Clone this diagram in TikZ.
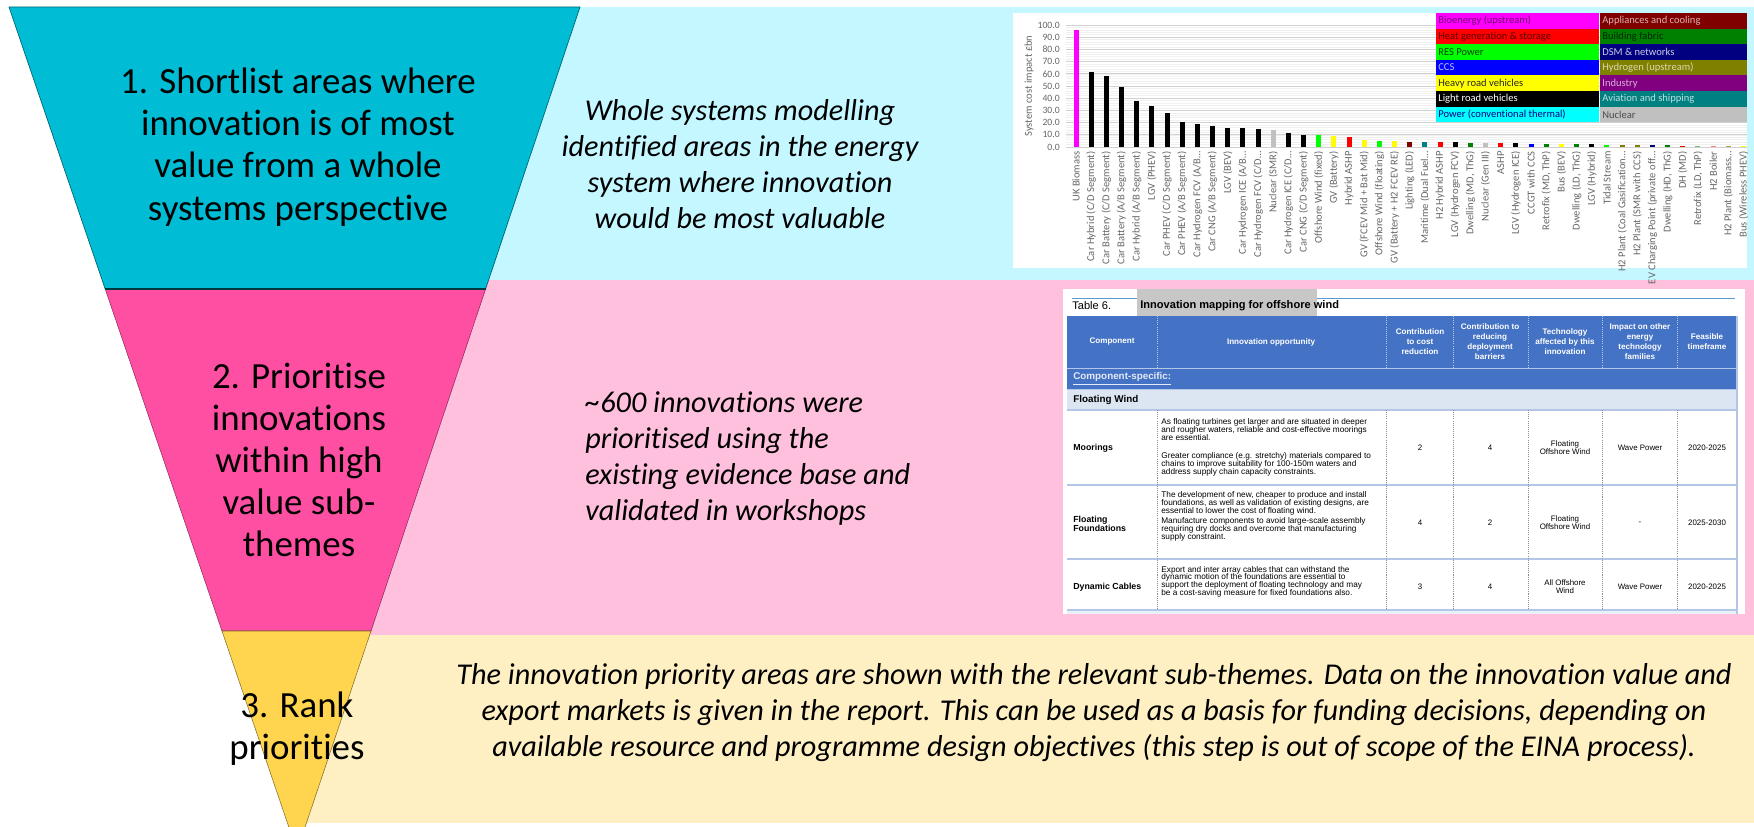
\documentclass[tikz,border=0pt]{standalone}
\usepackage{fontspec}
\setmainfont{Carlito}[Ligatures=NoCommon]
\newfontfamily\tabfont{Liberation Sans}
\usetikzlibrary{positioning}

% funnel and band colours
\definecolor{stepcyan}{HTML}{00BCD4}
\definecolor{bandcyan}{HTML}{C4F7FF}
\definecolor{steppink}{HTML}{FF4FA3}
\definecolor{bandpink}{HTML}{FFC0DE}
\definecolor{stepyellow}{HTML}{FFD54F}
\definecolor{bandyellow}{HTML}{FFF0C3}
% chart legend colours
\definecolor{bio}{HTML}{FF00FF}
\definecolor{heat}{HTML}{FF0000}
\definecolor{res}{HTML}{00FF00}
\definecolor{ccs}{HTML}{0000FF}
\definecolor{hrv}{HTML}{FFFF00}
\definecolor{lrv}{HTML}{000000}
\definecolor{pct}{HTML}{00FFFF}
\definecolor{app}{HTML}{800000}
\definecolor{bfab}{HTML}{008000}
\definecolor{dsm}{HTML}{000080}
\definecolor{hyd}{HTML}{808000}
\definecolor{ind}{HTML}{800080}
\definecolor{avi}{HTML}{008080}
\definecolor{nuc}{HTML}{C0C0C0}
% table colours
\definecolor{tabblue}{HTML}{4472C4}
\definecolor{tablight}{HTML}{DCE6F2}
\definecolor{tabline}{HTML}{B4C6E7}
\definecolor{tabrule}{HTML}{5B9BD5}

\begin{document}
\begin{tikzpicture}[
	x = 0.2mm, y = -0.2mm, % one unit per pixel, y downwards
	Stage/.style={align=center, inner sep=0pt, font=\fontsize{21}{24}\selectfont},
	Note/.style={align=center, inner sep=0pt, font=\fontsize{17.2}{20.5}\selectfont\itshape},
	Tick/.style={inner sep=0pt, text=black!60, font=\fontsize{5.5}{6}\selectfont},
	Key/.style={anchor=west, inner sep=0pt, font=\fontsize{6}{7}\selectfont},
	H/.style={align=center, inner sep=0pt, text=white, font=\tabfont\bfseries\fontsize{4.6}{5.7}\selectfont},
	B/.style={align=left, anchor=west, inner sep=0pt, font=\tabfont\fontsize{4.7}{4.4}\selectfont},
	C/.style={align=center, inner sep=0pt, font=\tabfont\fontsize{4.5}{4.4}\selectfont},
	Bb/.style={B, font=\tabfont\bfseries\fontsize{5}{5.2}\selectfont},
	]

	\useasboundingbox[fill=white] (0,0) rectangle (1754,827);

	% Bands behind the funnel
	\fill[bandcyan] (300,7) rectangle (1754,280);
	\fill[bandpink] (300,280) rectangle (1754,635);
	\fill[bandyellow] (297,635) rectangle (1754,823);

	% Funnel
	\begin{scope}
	\clip (0,0) rectangle (1754,827);
	\filldraw[fill=stepcyan, draw=stepcyan!55!black, line width=0.4pt]
		(9,7) -- (580,7) -- (485.6,289) -- (105.2,289) -- cycle;
	\filldraw[fill=steppink, draw=steppink!55!black, line width=0.3pt]
		(105.2,289) -- (485.6,289) -- (371,631) -- (222,631) -- cycle;
	\draw[line width=1pt, stepcyan!30!black] (105.2,289) -- (485.6,289);
	\filldraw[fill=stepyellow, draw=stepyellow!50!black, line width=0.3pt]
		(222,631) -- (371,631) -- (297,851) -- cycle;
	\end{scope}

	% Step texts
	\node[Stage] (S1) at (298,147) {1. Shortlist areas where\\innovation is of most\\value from a whole\\systems perspective};
	\node[Stage] (S2) at (299,460) {2. Prioritise\\innovations\\within high\\value sub-\\themes};
	\node[Stage] (S3) at (297,729) {3. Rank\\priorities};

	% Notes
	\node[Note] (N1) at (740,164) {Whole systems modelling\\identified areas in the energy\\system where innovation\\would be most valuable};
	\node[Note, align=left, anchor=west] (N2) at (585,459) {\textasciitilde600 innovations were\\prioritised using the\\existing evidence base and\\validated in workshops};
	\node[Note] (N3) at (1094,713) {The innovation priority areas are shown with the relevant sub-themes. Data on the innovation value and\\export markets is given in the report. This can be used as a basis for funding decisions, depending on\\available resource and programme design objectives (this step is out of scope of the EINA process).};

	% Chart panel
	\fill[white] (1013,13) rectangle (1747,268);
	\foreach \g in {0,2,...,100}
		\draw[black!6, line width=0.3pt] (1066,{147-1.22*\g}) -- (1747,{147-1.22*\g});
	\foreach \g in {0,10,...,100} {
		\draw[black!18, line width=0.4pt] (1066,{147-1.22*\g}) -- (1747,{147-1.22*\g});
		\node[Tick, anchor=east] (Y\g) at (1060,{147-1.22*\g}) {\g.0};
	}
	\node[Tick, rotate=90, font=\fontsize{6}{6}\selectfont] (YT) at (1029,86) {System cost impact £bn};

	% Bars and their labels
	\foreach \val/\col/\lab [count=\i from 0] in {
		96/bio/UK Biomass, 61.6/lrv/{Car Hybrid (C/D Segment)}, 58.4/lrv/{Car Battery (C/D Segment)},
		49.3/lrv/{Car Battery (A/B Segment)}, 37.8/lrv/{Car Hybrid (A/B Segment)}, 33.7/lrv/LGV (PHEV),
		28/lrv/{Car PHEV (C/D Segment)}, 20.5/lrv/{Car PHEV (A/B Segment)}, 19.2/lrv/{Car Hydrogen FCV (A/B…},
		17/lrv/{Car CNG (A/B Segment)}, 15.9/lrv/LGV (BEV), 15.6/lrv/{Car Hydrogen ICE (A/B…},
		15.1/lrv/{Car Hydrogen FCV (C/D…}, 14.2/nuc/Nuclear (SMR), 11.8/lrv/{Car Hydrogen ICE (C/D…},
		10.1/lrv/{Car CNG (C/D Segment)}, 9.6/res/Offshore Wind (fixed), 8.8/hrv/GV (Battery),
		8.2/heat/Hybrid ASHP, 5.5/hrv/GV (FCEV Mid + Bat Mid), 4.9/res/Offshore Wind (floating),
		4.7/hrv/GV (Battery + H2 FCEV RE), 4.4/app/Lighting (LED), 4.1/avi/Maritime (Dual Fuel…,
		3.9/heat/H2 Hybrid ASHP, 3.8/lrv/LGV (Hydrogen FCV), 3.6/bfab/{Dwelling (MD, ThG)},
		3.5/nuc/Nuclear (Gen III), 3.3/heat/ASHP, 3.0/lrv/LGV (Hydrogen ICE),
		2.8/ccs/CCGT with CCS, 2.6/bfab/{Retrofix (MD, ThP)}, 2.5/hrv/Bus (BEV),
		2.4/bfab/{Dwelling (LD, ThG)}, 2.2/lrv/LGV (Hybrid), 2.0/res/Tidal Stream,
		1.8/hyd/H2 Plant (Coal Gasification…, 1.6/hyd/H2 Plant (SMR with CCS), 1.4/dsm/EV Charging Point (private off…,
		1.3/bfab/{Dwelling (HD, ThG)}, 1.2/heat/DH (MD), 1.1/bfab!55/{Retrofix (LD, ThP)},
		1.0/heat!50/H2 Boiler, 0.9/hyd!70/H2 Plant (Biomass…, 0.8/hrv/Bus (Wireless PHEV)} {
		\fill[\col] ({1073.5+15.17*\i},147) rectangle ++(5,{-1.22*\val});
		\node[Tick, rotate=90, anchor=east, font=\fontsize{6}{6}\selectfont] (X\i) at ({1076+15.17*\i},151) {\lab};
	}

	% Legend
	\foreach \lab/\col/\fg [count=\k from 0] in {
		Bioenergy (upstream)/bio/bio!45!black, Heat generation \& storage/heat/heat!35!black,
		RES Power/res/res!25!black, CCS/ccs/white!75!ccs, Heavy road vehicles/hrv/black!85,
		Light road vehicles/lrv/white!90, Power (conventional thermal)/pct/dsm} {
		\fill[\col] (1436,{13+15.6*\k}) rectangle ++(163,15.6);
		\node[Key, text=\fg] (KL\k) at (1438,{20.8+15.6*\k}) {\lab};
	}
	\foreach \lab/\col/\fg [count=\k from 0] in {
		Appliances and cooling/app/white!70!app, Building fabric/bfab/bfab!30!black,
		DSM \& networks/dsm/white!80!dsm, Hydrogen (upstream)/hyd/white!70!hyd,
		Industry/ind/white!70!ind, Aviation and shipping/avi/white!75!avi, Nuclear/nuc/black!70} {
		\fill[\col] (1600,{13+15.6*\k}) rectangle ++(147,15.6);
		\node[Key, text=\fg] (KR\k) at (1602,{20.8+15.6*\k}) {\lab};
	}

	% Table panel
	\fill[white] (1063,289) rectangle (1745,614);
	\draw[tabrule, line width=0.5pt] (1072,298) -- (1735,298);
	\fill[black!22] (1137,289) rectangle (1317,316);
	\node[B, font=\tabfont\fontsize{6.3}{7}\selectfont] (TN) at (1072,306) {Table 6.};
	\node[B, font=\tabfont\bfseries\fontsize{6.3}{7}\selectfont] (TT) at (1140,306) {Innovation mapping for offshore wind};

	% header rows
	\fill[tabblue] (1067,316) rectangle (1737,389);
	\draw[tabline, line width=0.6pt] (1067,368.5) -- (1737,368.5);
	\fill[tablight] (1067,390) rectangle (1737,410);
	\fill[tablight!60] (1067,611) rectangle (1737,614);
	\foreach \r in {389.5,410,485,559,610}
		\draw[tabline, line width=0.7pt] (1067,\r) -- (1737,\r);
	\draw[tabline, line width=0.7pt] (1737,316) -- (1737,614);
	\foreach \c in {1157,1386,1453,1528,1602,1677} {
		\draw[white!60!tabblue, dash pattern=on 0.6pt off 0.6pt, line width=0.3pt] (\c,316) -- (\c,368);
		\draw[black!45, dash pattern=on 0.6pt off 0.6pt, line width=0.3pt] (\c,410) -- (\c,610);
	}
	\node[H] (H1) at (1112,342) {Component};
	\node[H] (H2) at (1271,342) {Innovation opportunity};
	\node[H] (H3) at (1420,342) {Contribution\\to cost\\reduction};
	\node[H] (H4) at (1490,342) {Contribution to\\reducing\\deployment\\barriers};
	\node[H] (H5) at (1565,342) {Technology\\affected by this\\innovation};
	\node[H] (H6) at (1640,342) {Impact on other\\energy\\technology\\families};
	\node[H] (H7) at (1707,342) {Feasible\\timeframe};
	\node[Bb, text=white!85!tabblue, font=\tabfont\bfseries\fontsize{5.6}{6}\selectfont] (CS) at (1073,379) {\underline{Component-specific:}};
	\node[Bb, font=\tabfont\bfseries\fontsize{5.6}{6}\selectfont] (FW) at (1073,400) {Floating Wind};

	% Moorings
	\node[Bb] (R1) at (1073,448) {Moorings};
	\node[B] (R1a) at (1161,429.5) {As floating turbines get larger and are situated in deeper\\and rougher waters, reliable and cost-effective moorings\\are essential.};
	\node[B] (R1b) at (1161,464.5) {Greater compliance (e.g. stretchy) materials compared to\\chains to improve suitability for 100-150m waters and\\address supply chain capacity constraints.};
	\node[C] (R1c) at (1420,448) {2};
	\node[C] (R1d) at (1490,448) {4};
	\node[C] (R1e) at (1565,448) {Floating\\Offshore Wind};
	\node[C] (R1f) at (1640,448) {Wave Power};
	\node[C] (R1g) at (1707,448) {2020-2025};

	% Floating foundations
	\node[Bb] (R2) at (1073,524) {Floating\\Foundations};
	\node[B] (R2a) at (1161,503.5) {The development of new, cheaper to produce and install\\foundations, as well as validation of existing designs, are\\essential to lower the cost of floating wind.};
	\node[B] (R2b) at (1161,529.5) {Manufacture components to avoid large-scale assembly\\requiring dry docks and overcome that manufacturing\\supply constraint.};
	\node[C] (R2c) at (1420,523) {4};
	\node[C] (R2d) at (1490,523) {2};
	\node[C] (R2e) at (1565,523) {Floating\\Offshore Wind};
	\node[C] (R2f) at (1640,523) {-};
	\node[C] (R2g) at (1707,523) {2025-2030};

	% Dynamic cables
	\node[Bb] (R3) at (1073,587) {Dynamic Cables};
	\node[B] (R3a) at (1161,581.5) {Export and inter array cables that can withstand the\\dynamic motion of the foundations are essential to\\support the deployment of floating technology and may\\be a cost-saving measure for fixed foundations also.};
	\node[C] (R3c) at (1420,587) {3};
	\node[C] (R3d) at (1490,587) {4};
	\node[C] (R3e) at (1565,587) {All Offshore\\Wind};
	\node[C] (R3f) at (1640,587) {Wave Power};
	\node[C] (R3g) at (1707,587) {2020-2025};
\end{tikzpicture}
\end{document}
